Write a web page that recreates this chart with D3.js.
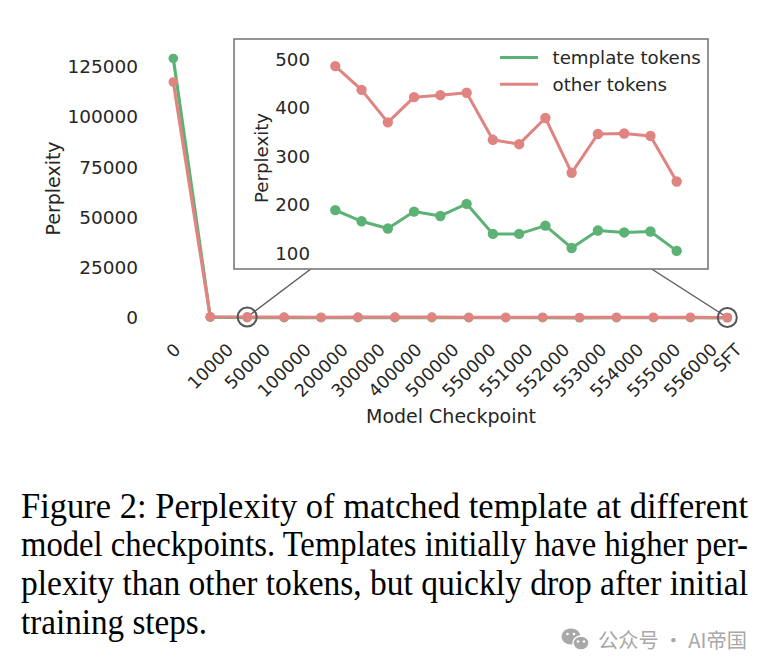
<!DOCTYPE html>
<html>
<head>
<meta charset="utf-8">
<script src="https://cdn.jsdelivr.net/npm/d3@7"></script>
<style>
  body { margin: 0; background: white; }
  svg { display: block; }
</style>
</head>
<body>
<svg id="canvas"></svg>
<script>
// data
const checkpoints = ["0", "10000", "50000", "100000", "200000", "300000", "400000", "500000",
  "550000", "551000", "552000", "553000", "554000", "555000", "556000", "SFT"];
const templatePpl = [129000, 450, 189, 166, 151, 186, 177, 202, 140, 140, 157, 111, 147, 143, 145, 105];
const otherPpl = [117300, 620, 486, 437, 370, 422, 426, 431, 334, 325, 379, 266, 346, 347, 342, 248];
const insetFrom = "50000";   // inset shows 50000 .. SFT
const mainYTicks = [0, 25000, 50000, 75000, 100000, 125000];
const insetYTicks = [100, 200, 300, 400, 500];
const seriesNames = ["template tokens", "other tokens"];
const captionLines = [
  "Figure 2: Perplexity of matched template at different",
  "model checkpoints. Templates initially have higher per-",
  "plexity than other tokens, but quickly drop after initial",
  "training steps."
];
const watermark = "公众号 · AI帝国";

const green = "#5cb274";
const red = "#e08482";
const textColor = "#262626";
const font = "DejaVu Sans";

const svgWidth = 772, svgHeight = 671;
const svg = d3.select("#canvas").attr("width", svgWidth).attr("height", svgHeight);

// ---------- main axes ----------
const xScale = d3.scalePoint().domain(checkpoints).range([173.3, 727.3]);
const yScale = d3.scaleLinear().domain([0, 125000]).range([318, 66.5]);

const yAxis = d3.axisLeft(yScale).tickValues(mainYTicks).tickFormat(d3.format("d")).tickSize(0).tickPadding(2);
svg.append("g")
  .attr("transform", "translate(140,0)")
  .call(yAxis)
  .call(g => g.select(".domain").remove())
  .selectAll("text")
  .style("font-family", font).style("font-size", "18.5px").attr("fill", textColor);

const xAxis = d3.axisBottom(xScale).tickSize(0);
const xg = svg.append("g").call(xAxis);
xg.select(".domain").remove();
xg.selectAll(".tick").attr("transform", null);
xg.selectAll("text")
  .style("font-family", font).style("font-size", "17.5px").attr("fill", textColor)
  .attr("y", null).attr("dy", null)
  .attr("text-anchor", "middle")
  .each(function (d) {
    const w = this.getComputedTextLength();
    const f = 17.5;
    const h = (w + 0.729 * f) * Math.SQRT1_2;
    const cx = xScale(d);
    const cy = 342 + h / 2;
    d3.select(this)
      .attr("dy", "0.36em")
      .attr("transform", "translate(" + cx + "," + cy + ") rotate(-45)");
  });

svg.append("text")
  .attr("transform", "translate(60,188.5) rotate(-90)")
  .attr("text-anchor", "middle")
  .style("font-family", font).style("font-size", "19px").attr("fill", textColor)
  .text("Perplexity");

svg.append("text")
  .attr("x", 451).attr("y", 423)
  .attr("text-anchor", "middle")
  .style("font-family", font).style("font-size", "19px").attr("fill", textColor)
  .text("Model Checkpoint");

const mainLine = (vals) => d3.line()
  .x((d, i) => xScale(checkpoints[i]))
  .y(d => yScale(d))(vals);

[[templatePpl, green], [otherPpl, red]].forEach(([vals, col]) => {
  svg.append("path")
    .attr("d", mainLine(vals))
    .attr("fill", "none").attr("stroke", col)
    .attr("stroke-width", 3.2).attr("stroke-linejoin", "round");
  svg.append("g").selectAll("circle")
    .data(vals).enter().append("circle")
    .attr("cx", (d, i) => xScale(checkpoints[i]))
    .attr("cy", d => yScale(d))
    .attr("r", 4.8)
    .attr("fill", col);
});

// ---------- inset ----------
const insetCats = checkpoints.slice(checkpoints.indexOf(insetFrom));
const insetTemplate = templatePpl.slice(checkpoints.indexOf(insetFrom));
const insetOther = otherPpl.slice(checkpoints.indexOf(insetFrom));

const box = { left: 234, top: 39, right: 708, bottom: 269 };

const markFirst = insetCats[0], markLast = insetCats[insetCats.length - 1];
const insetX = d3.scalePoint().domain(insetCats).range([335.3, 676.7]);
const insetY = d3.scaleLinear().domain([100, 500]).range([253.3, 59.3]);

// zoom connectors
const connectors = [
  [xScale(markFirst), yScale(insetOther[0]), insetX(markFirst) - 24.5, box.bottom],
  [xScale(markLast), yScale(insetOther[insetOther.length - 1]), insetX(markLast) - 25, box.bottom]
];
svg.append("g").selectAll("line")
  .data(connectors).enter().append("line")
  .attr("x1", d => d[0]).attr("y1", d => d[1])
  .attr("x2", d => d[2]).attr("y2", d => d[3])
  .attr("stroke", "#5a5a5a").attr("stroke-width", 1.4);

// redraw points over connector lines, then the rings
svg.append("g").selectAll("circle")
  .data([markFirst, markLast]).enter().append("circle")
  .attr("cx", d => xScale(d))
  .attr("cy", d => yScale(otherPpl[checkpoints.indexOf(d)]))
  .attr("r", 4.8).attr("fill", red);

svg.append("g").selectAll("circle")
  .data([markFirst, markLast]).enter().append("circle")
  .attr("cx", d => xScale(d))
  .attr("cy", d => yScale(otherPpl[checkpoints.indexOf(d)]))
  .attr("r", 9.5)
  .attr("fill", "none")
  .attr("stroke", "#555").attr("stroke-width", 2);

svg.append("rect")
  .attr("x", box.left).attr("y", box.top)
  .attr("width", box.right - box.left).attr("height", box.bottom - box.top)
  .attr("fill", "white").attr("stroke", "#7a7a7a").attr("stroke-width", 1.6);

const insetG = svg.append("g");

insetG.append("g")
  .attr("transform", "translate(312,0)")
  .call(d3.axisLeft(insetY).tickValues(insetYTicks).tickSize(0).tickPadding(2))
  .call(g => g.select(".domain").remove())
  .selectAll("text")
  .style("font-family", font).style("font-size", "18.2px").attr("fill", textColor);

insetG.append("text")
  .attr("transform", "translate(268,158) rotate(-90)")
  .attr("text-anchor", "middle")
  .style("font-family", font).style("font-size", "18.2px").attr("fill", textColor)
  .text("Perplexity");

const insetLine = d3.line()
  .x((d, i) => insetX(insetCats[i]))
  .y(d => insetY(d));

[[insetTemplate, green], [insetOther, red]].forEach(([vals, col]) => {
  insetG.append("path")
    .attr("d", insetLine(vals))
    .attr("fill", "none").attr("stroke", col)
    .attr("stroke-width", 3).attr("stroke-linejoin", "round");
  insetG.append("g").selectAll("circle")
    .data(vals).enter().append("circle")
    .attr("cx", (d, i) => insetX(insetCats[i]))
    .attr("cy", d => insetY(d))
    .attr("r", 5.2)
    .attr("fill", col);
});

// legend
const legend = insetG.append("g").attr("transform", "translate(500,57.5)");
const legendItems = legend.selectAll("g")
  .data(seriesNames).enter().append("g")
  .attr("transform", (d, i) => "translate(0," + i * 26.7 + ")");
legendItems.append("line")
  .attr("x1", 0).attr("x2", 38)
  .attr("stroke", (d, i) => i === 0 ? green : red)
  .attr("stroke-width", 3);
legendItems.append("text")
  .attr("x", 52.5).attr("dy", "0.35em")
  .style("font-family", font).style("font-size", "18.2px").attr("fill", textColor)
  .text(d => d);

// ---------- caption ----------
// glyphs in the reference are a bit taller than wide, so stretch vertically
const capLeft = 21, capRight = 748, lastRight = 207;
const capG = svg.append("g")
  .style("font-family", "Liberation Serif, Times New Roman, serif")
  .style("font-size", "33px")
  .attr("fill", "black");
capG.selectAll("text")
  .data(captionLines).enter().append("text")
  .attr("transform", (d, i) => "translate(" + capLeft + "," + (517.5 + i * 38.8) + ") scale(1,1.07)")
  .attr("textLength", (d, i) => i < captionLines.length - 1 ? capRight - capLeft : lastRight - capLeft)
  .attr("lengthAdjust", "spacingAndGlyphs")
  .text(d => d);

// ---------- watermark ----------
const wm = svg.append("g").attr("fill", "#a8a8a8");
wm.append("ellipse").attr("cx", 571).attr("cy", 636.5).attr("rx", 9.5).attr("ry", 8);
wm.append("ellipse").attr("cx", 581).attr("cy", 643).attr("rx", 8).attr("ry", 7)
  .attr("stroke", "white").attr("stroke-width", 1.4);
[[567.5, 634], [574, 634], [578, 641.5], [584, 641.5]].forEach(p => {
  wm.append("circle").attr("cx", p[0]).attr("cy", p[1]).attr("r", 1.3).attr("fill", "white");
});
wm.append("text")
  .attr("x", 598).attr("y", 647.5)
  .attr("textLength", 149).attr("lengthAdjust", "spacingAndGlyphs")
  .style("font-family", "Noto Sans CJK SC, sans-serif")
  .style("font-size", "20.5px")
  .text(watermark);
</script>
</body>
</html>
